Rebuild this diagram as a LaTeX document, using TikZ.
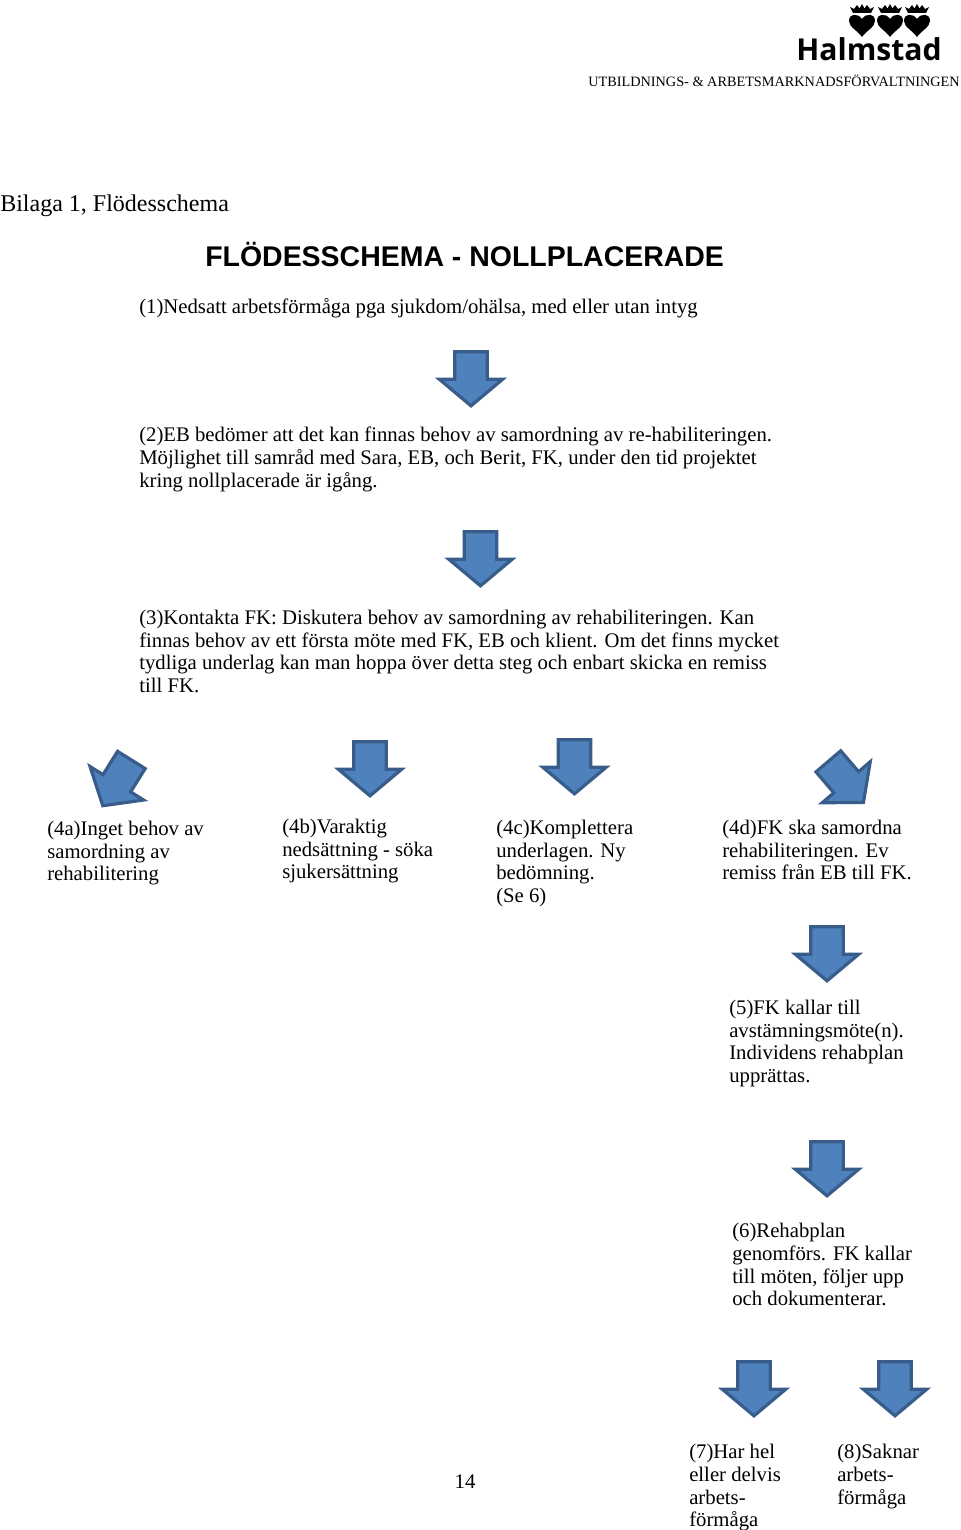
\documentclass[tikz,border=0pt]{standalone}
\usepackage{fontspec}
\setmainfont{Liberation Serif}
\newfontfamily\titlefont{Liberation Sans}
\newfontfamily\logofont{Open Sans}
\usetikzlibrary{shapes.arrows}
\definecolor{arrowblue}{RGB}{79, 129, 189}
\definecolor{arrowedge}{RGB}{56, 93, 138}

\tikzset{
    flowtext/.style={anchor=north west, inner sep=0pt, align=left, font=\fontsize{15.55}{17}\selectfont},
    blockarrow/.style={single arrow, draw=arrowedge, fill=arrowblue, line width=2.4pt, inner xsep=0pt, inner ysep=11pt, outer sep=0pt,
        minimum height=40.5pt, single arrow head extend=11.5pt, single arrow tip angle=100,
        single arrow head indent=0pt, rotate=#1, xshift=-5.25pt},
    blockarrow/.default=270,
    pics/logomark/.style={code={
        \fill (0,-3) .. controls (-4,-9) and (-13,-9) .. (-13,-1) .. controls (-13,5) and (-4,9) .. (0,15)
            .. controls (4,9) and (13,5) .. (13,-1) .. controls (13,-9) and (4,-9) .. (0,-3) -- cycle;
        \fill (-9,-9) -- (-12,-15) -- (-8,-13) -- (-5,-17) -- (-2.5,-13.5) -- (0,-18) -- (2.5,-13.5) -- (5,-17)
            -- (8,-13) -- (12,-15) -- (9,-9) -- cycle;
    }}
}

\begin{document}
\begin{tikzpicture}[x=0.75pt, y=-0.75pt]
    \useasboundingbox (0,0) rectangle (960,1530);

    % logo
    \pic at (862,22) {logomark};
    \pic at (890,22) {logomark};
    \pic at (917,22) {logomark};
    \node[anchor=base, inner sep=0pt, font=\logofont\bfseries\fontsize{22.6}{26}\selectfont] (logo) at (869,61) {Halmstad};
    \node[anchor=base east, inner sep=0pt, font=\fontsize{10.7}{12}\selectfont] (dept) at (960,87) {UTBILDNINGS- \& ARBETSMARKNADSFÖRVALTNINGEN};

    \node[anchor=base west, inner sep=0pt, font=\fontsize{18}{20}\selectfont] (bilaga) at (0,212) {Bilaga 1, Flödesschema};
    \node[anchor=base west, inner sep=0pt, font=\titlefont\bfseries\fontsize{21.35}{24}\selectfont] (title) at (205,267) {FLÖDESSCHEMA - NOLLPLACERADE};

    \node[flowtext] (one) at (139,298) {(1)Nedsatt arbetsförmåga pga sjukdom/ohälsa, med eller utan intyg};
    \node[blockarrow] (arrowone) at (471,379) {};
    \node[flowtext] (two) at (139,427) {(2)EB bedömer att det kan finnas behov av samordning av re-habiliteringen.\\
        Möjlighet till samråd med Sara, EB, och Berit, FK, under den tid projektet\\
        kring nollplacerade är igång.};
    \node[blockarrow] (arrowtwo) at (480.5,559) {};
    \node[flowtext] (three) at (139,610) {(3)Kontakta FK: Diskutera behov av samordning av rehabiliteringen. Kan\\
        finnas behov av ett första möte med FK, EB och klient. Om det finns mycket\\
        tydliga underlag kan man hoppa över detta steg och enbart skicka en remiss\\
        till FK.};

    \node[blockarrow=238] (arrowfoura) at (117,783) {};
    \node[blockarrow] (arrowfourb) at (370,769) {};
    \node[blockarrow] (arrowfourc) at (574.5,767) {};
    \node[blockarrow=-49.5] (arrowfourd) at (846,782) {};

    \node[flowtext] (foura) at (47,821) {(4a)Inget behov av\\samordning av\\rehabilitering};
    \node[flowtext] (fourb) at (282,819) {(4b)Varaktig\\nedsättning - söka\\sjukersättning};
    \node[flowtext] (fourc) at (496,820) {(4c)Komplettera\\underlagen. Ny\\bedömning.\\(Se 6)};
    \node[flowtext] (fourd) at (722,820) {(4d)FK ska samordna\\rehabiliteringen. Ev\\remiss från EB till FK.};

    \node[blockarrow] (arrowfive) at (827,954) {};
    \node[flowtext] (five) at (729,1000) {(5)FK kallar till\\avstämningsmöte(n).\\Individens rehabplan\\upprättas.};
    \node[blockarrow] (arrowsix) at (827,1169) {};
    \node[flowtext] (six) at (732,1223) {(6)Rehabplan\\genomförs. FK kallar\\till möten, följer upp\\och dokumenterar.};

    \node[blockarrow] (arrowseven) at (754,1389) {};
    \node[blockarrow] (arroweight) at (895,1389) {};
    \node[flowtext] (seven) at (689,1444) {(7)Har hel\\eller delvis\\arbets-\\förmåga};
    \node[flowtext] (eight) at (837,1444) {(8)Saknar\\arbets-\\förmåga};
    \node[anchor=base, inner sep=0pt, font=\fontsize{15.55}{17}\selectfont] (pageno) at (465,1488) {14};
\end{tikzpicture}
\end{document}
